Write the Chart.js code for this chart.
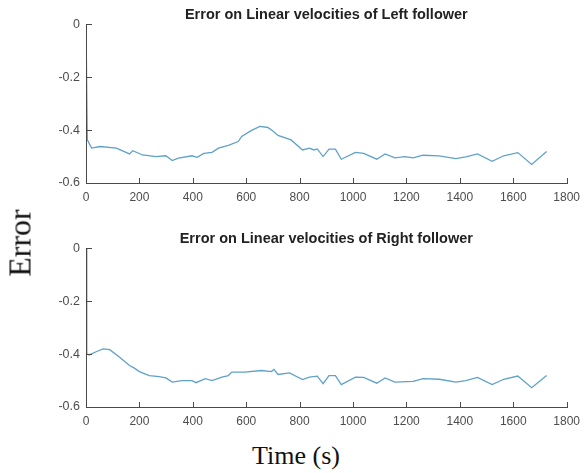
<!DOCTYPE html>
<html>
<head>
<meta charset="utf-8">
<script src="https://cdn.jsdelivr.net/npm/chart.js@4/dist/chart.umd.min.js"></script>
<style>
  body { margin: 0; background: #fff; }
  #page { position: relative; width: 587px; height: 473px; overflow: hidden; }
  .box { position: absolute; left: 0; width: 587px; height: 215px; }
  .lbl { position: absolute; font-family: "Liberation Serif", "Times New Roman", serif; color: #111; white-space: nowrap; }
  .ax { position: absolute; background: #4a4a4a; }
</style>
</head>
<body>
<div id="page">
  <div class="box" id="leftBox" style="top:0"><canvas id="leftChart" width="587" height="215"></canvas></div>
  <div class="box" id="rightBox" style="top:224px"><canvas id="rightChart" width="587" height="215"></canvas></div>
  <div class="lbl" style="left:20px; top:243px; font-size:32px; transform:translate(-50%,-50%) rotate(-90deg);">Error</div>
  <div class="lbl" style="left:296px; top:456px; font-size:26px; transform:translate(-50%,-50%);">Time (s)</div>
</div>
<script>
// time samples (s) and errors
let leftTime = [0, 5, 21, 52, 114, 163, 175, 212, 262, 299, 323, 346, 397, 416, 441, 472, 496, 533, 570, 583,
  620, 651, 681, 700, 719, 768, 811, 836, 854, 866, 888, 910, 934, 956, 1009, 1040, 1089, 1120, 1157, 1194,
  1225, 1262, 1323, 1385, 1422, 1466, 1521, 1564, 1617, 1669, 1725];
let leftError = [0, -0.437, -0.468, -0.462, -0.468, -0.49, -0.478, -0.494, -0.5, -0.497, -0.515, -0.506, -0.497, -0.503, -0.488, -0.484, -0.468, -0.458, -0.443, -0.424,
  -0.401, -0.386, -0.39, -0.403, -0.42, -0.437, -0.475, -0.468, -0.475, -0.471, -0.5, -0.472, -0.472, -0.51, -0.484, -0.488, -0.51, -0.49, -0.505, -0.5,
  -0.505, -0.495, -0.497, -0.508, -0.501, -0.49, -0.518, -0.497, -0.485, -0.53, -0.481];

let rightTime = [0, 3, 12, 40, 64, 89, 126, 163, 181, 200, 237, 274, 299, 323, 360, 397, 412, 447, 472, 509,
  533, 546, 595, 657, 694, 704, 719, 762, 811, 836, 866, 888, 910, 934, 956, 1009, 1040, 1089, 1120, 1157,
  1225, 1262, 1323, 1385, 1422, 1466, 1521, 1564, 1617, 1669, 1725];
let rightError = [0, -0.399, -0.403, -0.39, -0.38, -0.383, -0.412, -0.443, -0.453, -0.466, -0.481, -0.485, -0.49, -0.506, -0.5, -0.5, -0.508, -0.493, -0.5, -0.487,
  -0.481, -0.468, -0.468, -0.462, -0.466, -0.458, -0.477, -0.471, -0.496, -0.487, -0.483, -0.512, -0.481, -0.481, -0.515, -0.487, -0.488, -0.51, -0.49, -0.506,
  -0.503, -0.493, -0.495, -0.506, -0.5, -0.488, -0.515, -0.495, -0.483, -0.527, -0.481];

let xTicks = [0, 200, 400, 600, 800, 1000, 1200, 1400, 1600, 1800];
let yTicks = [0, -0.2, -0.4, -0.6];

const axisColor = "#4a4a4a";
const lineColor = "#5fa2c9";
const sans = "Liberation Sans, Arial, sans-serif";

// short inward tick marks, matlab style
const inwardTicks = {
    id: "inwardTicks",
    afterDraw(chart) {
        const { ctx, chartArea, scales } = chart;
        const l = Math.round(chartArea.left);
        const b = Math.round(chartArea.bottom);
        ctx.save();
        ctx.fillStyle = axisColor;
        xTicks.forEach((v) => ctx.fillRect(Math.round(scales.x.getPixelForValue(v)), b - 5, 1, 5));
        yTicks.forEach((v) => ctx.fillRect(l, Math.round(scales.y.getPixelForValue(v)), 6, 1));
        ctx.restore();
    }
};

// same axes laid over the canvas from the chart's scales (left + bottom, box off)
function addAxes(chart, boxId) {
    try {
        const box = document.getElementById(boxId);
        const { chartArea, scales } = chart;
        const l = Math.round(chartArea.left);
        const t = Math.round(chartArea.top);
        const b = Math.round(chartArea.bottom);
        const r = Math.round(chartArea.right);
        const seg = (x, y, w, h) => {
            const d = document.createElement("div");
            d.className = "ax";
            d.style.left = x + "px";
            d.style.top = y + "px";
            d.style.width = w + "px";
            d.style.height = h + "px";
            box.appendChild(d);
        };
        seg(l, t, 1, b - t + 1);
        seg(l, b, r - l + 1, 1);
        xTicks.forEach((v) => seg(Math.round(scales.x.getPixelForValue(v)), b - 5, 1, 5));
        yTicks.forEach((v) => seg(l, Math.round(scales.y.getPixelForValue(v)), 6, 1));
    } catch (e) {
        // chart not laid out yet, the canvas border is still there
    }
}

function makeChart(id, title, times, errors) {
    const points = times.map((t, i) => ({ x: t, y: errors[i] }));
    return new Chart(document.getElementById(id), {
        type: "line",
        data: {
            datasets: [{
                data: points,
                borderColor: lineColor,
                borderWidth: 1.3,
                pointRadius: 0,
                tension: 0
            }]
        },
        options: {
            responsive: false,
            animation: false,
            layout: { padding: { left: 0, right: 15, top: 0, bottom: 0 } },
            plugins: {
                legend: { display: false },
                tooltip: { enabled: false },
                title: {
                    display: true,
                    text: title,
                    fullSize: false,
                    color: "#222",
                    font: { family: sans, size: 14.5, weight: "bold" },
                    padding: { top: 6, bottom: 1 }
                }
            },
            scales: {
                x: {
                    type: "linear",
                    min: 0,
                    max: 1800,
                    grid: { display: true, drawOnChartArea: false, drawTicks: false, color: axisColor },
                    border: { display: true, color: axisColor, width: 1 },
                    afterBuildTicks: (s) => { s.ticks = xTicks.map((v) => ({ value: v })); },
                    afterFit: (s) => { s.height = 32; },
                    ticks: {
                        color: "#4d4d4d",
                        padding: 7,
                        maxRotation: 0,
                        font: { family: sans, size: 12 },
                        callback: (v) => String(v)
                    }
                },
                y: {
                    min: -0.6,
                    max: 0,
                    grid: { display: true, drawOnChartArea: false, drawTicks: false, color: axisColor },
                    border: { display: true, color: axisColor, width: 1 },
                    afterBuildTicks: (s) => { s.ticks = yTicks.map((v) => ({ value: v })); },
                    afterFit: (s) => { s.width = 86; },
                    ticks: {
                        color: "#4d4d4d",
                        padding: 6,
                        font: { family: sans, size: 12.5 },
                        callback: (v) => String(Math.round(v * 10) / 10)
                    }
                }
            }
        },
        plugins: [inwardTicks]
    });
}

const leftChart = makeChart("leftChart", "Error on Linear velocities of Left follower", leftTime, leftError);
const rightChart = makeChart("rightChart", "Error on Linear velocities of Right follower", rightTime, rightError);
addAxes(leftChart, "leftBox");
addAxes(rightChart, "rightBox");
</script>
</body>
</html>
